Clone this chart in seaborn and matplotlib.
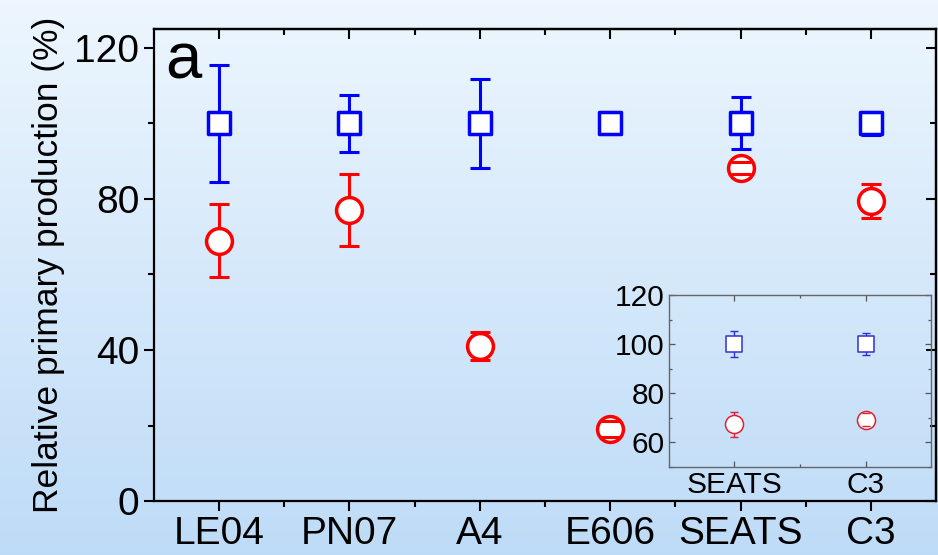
import numpy as np
import pandas as pd
import seaborn as sns
from matplotlib import pyplot as plt
from matplotlib.ticker import MultipleLocator, FixedLocator

sns.set_theme(style="ticks")
plt.rcParams['font.family'] = ['Liberation Sans', 'DejaVu Sans']
plt.rcParams['axes.unicode_minus'] = False
plt.rcParams['text.color'] = 'black'
plt.rcParams['axes.labelcolor'] = 'black'
plt.rcParams['xtick.color'] = 'black'
plt.rcParams['ytick.color'] = 'black'

# 主图数据
sites = ['LE04', 'PN07', 'A4', 'E606', 'SEATS', 'C3']
control_mean = [100, 100, 100, 100, 100, 100]
control_err = [15.5, 7.5, 11.7, 2.9, 6.9, 3.0]
treat_mean = [68.9, 77.1, 41.1, 19.1, 88.2, 79.5]
treat_err = [9.7, 9.6, 3.7, 2.1, 1.5, 4.5]

# 插图数据
inset_sites = ['SEATS', 'C3']
inset_control_mean = [100, 100]
inset_control_err = [5.4, 4.4]
inset_treat_mean = [67.3, 69.2]
inset_treat_err = [5.2, 2.6]

main = pd.DataFrame({'site': sites, 'pos': range(len(sites)),
                     'control': control_mean, 'control_err': control_err,
                     'treat': treat_mean, 'treat_err': treat_err})
inset = pd.DataFrame({'site': inset_sites, 'pos': range(len(inset_sites)),
                      'control': inset_control_mean, 'control_err': inset_control_err,
                      'treat': inset_treat_mean, 'treat_err': inset_treat_err})

fig = plt.figure(figsize=(9.38, 5.55), dpi=100)

# 背景渐变
bg = fig.add_axes([0, 0, 1, 1], zorder=-10)
grad = np.linspace(0, 1, 256).reshape(-1, 1)
top_c = np.array([0.93, 0.965, 0.995])
bot_c = np.array([0.745, 0.86, 0.97])
img = top_c + (bot_c - top_c) * grad[:, :, None]
bg.imshow(img, aspect='auto', extent=[0, 1, 0, 1], origin='upper')
bg.axis('off')


def draw_points(ax, df, col, err, color, marker, size, lw, elw, cap):
    eb = ax.errorbar(df['pos'], df[col], yerr=df[err], fmt='none', ecolor=color,
                     elinewidth=elw, capsize=cap, capthick=elw, zorder=2)
    for c in eb[1]:
        c.set_zorder(4)
    sns.scatterplot(data=df, x='pos', y=col, ax=ax, marker=marker, s=size,
                    color='white', edgecolor=color, linewidth=lw, zorder=3, legend=False)


ax = fig.add_axes([0.164, 0.097, 0.834, 0.851])
ax.patch.set_alpha(0)
draw_points(ax, main, 'control', 'control_err', '#0000ff', 's', 240, 2.5, 2.2, 7.5)
draw_points(ax, main, 'treat', 'treat_err', '#ff0000', 'o', 346, 2.5, 2.2, 7.5)
ax.set_xlim(-0.5, len(sites) - 0.5)
ax.set_ylim(0, 125)
ax.set_xticks(main['pos'])
ax.set_xticklabels(sites)
ax.xaxis.set_minor_locator(FixedLocator(np.arange(0.5, len(sites) - 1, 1)))
ax.set_yticks([0, 40, 80, 120])
ax.yaxis.set_minor_locator(MultipleLocator(20))
ax.set_xlabel('')
ax.set_ylabel('Relative primary production (%)', fontsize=25.5, labelpad=7)
ax.tick_params(which='both', direction='out', labelsize=28, width=1.5, color='black',
               labelcolor='black')
ax.tick_params(which='major', length=7)
ax.tick_params(which='minor', length=4)
for s in ax.spines.values():
    s.set_linewidth(1.6)
    s.set_color('black')

# 上方和右侧向内的刻度
top = ax.secondary_xaxis('top')
top.set_xticks(main['pos'])
top.xaxis.set_minor_locator(FixedLocator(np.arange(0.5, len(sites) - 1, 1)))
top.tick_params(which='both', direction='in', labeltop=False, width=1.5, color='black')
top.tick_params(which='major', length=7)
top.tick_params(which='minor', length=4)
right = ax.secondary_yaxis('right')
right.set_yticks([0, 40, 80, 120])
right.yaxis.set_minor_locator(MultipleLocator(20))
right.tick_params(which='both', direction='in', labelright=False, width=1.5, color='black')
right.tick_params(which='major', length=7)
right.tick_params(which='minor', length=4)
for sec in (top, right):
    for s in sec.spines.values():
        s.set_linewidth(1.6)
        s.set_color('black')

ax.text(0.014, 0.995, 'a', transform=ax.transAxes, fontsize=47, va='top', ha='left',
        color='black')

# 插图
axi = fig.add_axes([0.713, 0.159, 0.28, 0.309])
axi.patch.set_alpha(0)
draw_points(axi, inset, 'control', 'control_err', '#3030d0', 's', 132, 1.1, 1.0, 3)
draw_points(axi, inset, 'treat', 'treat_err', '#e02035', 'o', 169, 1.1, 1.0, 3)
axi.set_xlim(-0.5, len(inset_sites) - 0.5)
axi.set_ylim(50, 120)
axi.set_xticks(inset['pos'])
axi.set_xticklabels(inset_sites)
axi.xaxis.set_minor_locator(FixedLocator([0.5]))
axi.set_yticks([60, 80, 100, 120])
axi.yaxis.set_minor_locator(MultipleLocator(10))
axi.set_xlabel('')
axi.set_ylabel('')
axi.tick_params(which='both', direction='in', top=True, right=True, labelsize=21.5,
                width=0.9, color='#555555', labelcolor='black', pad=3)
axi.tick_params(which='major', length=4)
axi.tick_params(which='minor', length=2.5)
for s in axi.spines.values():
    s.set_linewidth(1.0)
    s.set_color('#666666')

fig.savefig('out.png', dpi=100)
